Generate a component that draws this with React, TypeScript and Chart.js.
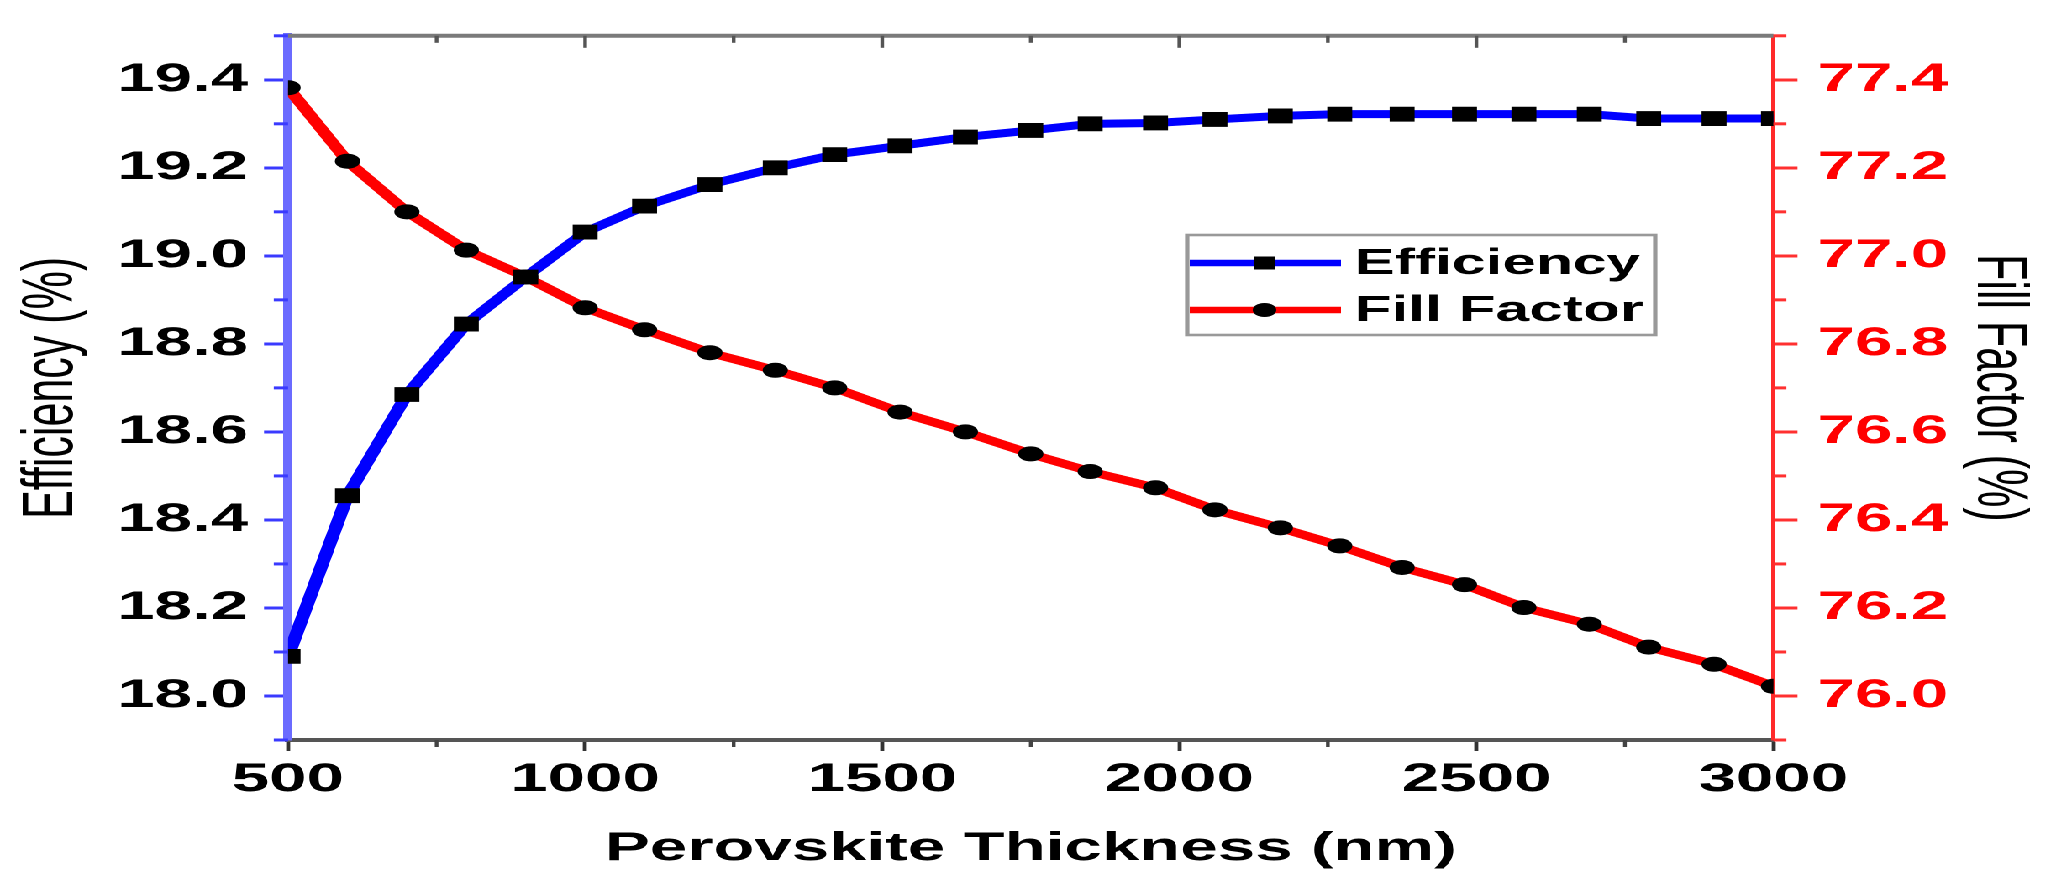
import React, { useEffect, useRef } from 'react';
import { Chart, registerables } from 'chart.js';

Chart.register(...registerables);

// ---- data ----
const thickness = [500, 600, 700, 800, 900, 1000, 1100, 1210, 1320, 1420, 1530, 1640, 1750, 1850, 1960, 2060, 2170, 2270, 2375, 2480, 2580, 2690, 2790, 2900, 3000];
const efficiency = [18.09, 18.455, 18.685, 18.845, 18.952, 19.054, 19.113, 19.162, 19.2, 19.23, 19.25, 19.27, 19.285, 19.3, 19.302, 19.31, 19.318, 19.322, 19.322, 19.322, 19.322, 19.322, 19.312, 19.312, 19.312];
const fillFactor = [77.382, 77.215, 77.1, 77.013, 76.952, 76.882, 76.832, 76.78, 76.74, 76.7, 76.645, 76.6, 76.55, 76.51, 76.473, 76.423, 76.382, 76.341, 76.292, 76.253, 76.201, 76.163, 76.111, 76.072, 76.022];

// ---- tick values ----
const xMajorTicks = [500, 1000, 1500, 2000, 2500, 3000];
const xMinorTicks = [750, 1250, 1750, 2250, 2750];
const xTopTicks = [750, 1000, 1250, 1500, 1750, 2000, 2250, 2500, 2750];
const effMajorTicks = [18.0, 18.2, 18.4, 18.6, 18.8, 19.0, 19.2, 19.4];
const effMinorTicks = [17.9, 18.1, 18.3, 18.5, 18.7, 18.9, 19.1, 19.3, 19.5];
const ffMajorTicks = [76.0, 76.2, 76.4, 76.6, 76.8, 77.0, 77.2, 77.4];
const ffMinorTicks = [75.9, 76.1, 76.3, 76.5, 76.7, 76.9, 77.1, 77.3, 77.5];

const seriesLabels = ['Efficiency', 'Fill Factor'];
const seriesColors = ['#0000ff', '#ff0000'];

// ---- layout (logical canvas, stretched horizontally like the reference) ----
const STRETCH = 1.68;
const FULL_W = 2072;
const H = 879;
const W = Math.round(FULL_W / STRETCH);
const FONT = "'Liberation Sans', Arial, Helvetica, sans-serif";

const framePlugin = {
  id: 'frameTicks',
  afterDraw(chart: any) {
    const ctx = chart.ctx;
    const { left, right, top, bottom } = chart.chartArea;
    const xs = chart.scales.x;
    const ys = chart.scales.y;
    const y1 = chart.scales.y1;
    ctx.save();
    // top frame line
    ctx.strokeStyle = '#7a7a7a';
    ctx.lineWidth = 4;
    ctx.beginPath();
    ctx.moveTo(left, top);
    ctx.lineTo(right, top);
    ctx.stroke();
    // top inward ticks
    ctx.strokeStyle = '#555';
    ctx.lineWidth = 2.2;
    xTopTicks.forEach((v) => {
      const px = xs.getPixelForValue(v);
      const len = xMajorTicks.includes(v) ? 12 : 7;
      ctx.beginPath();
      ctx.moveTo(px, top);
      ctx.lineTo(px, top + len);
      ctx.stroke();
    });
    // bottom minor ticks (outward)
    ctx.strokeStyle = '#444';
    xMinorTicks.forEach((v) => {
      const px = xs.getPixelForValue(v);
      ctx.beginPath();
      ctx.moveTo(px, bottom);
      ctx.lineTo(px, bottom + 7);
      ctx.stroke();
    });
    // left minor ticks
    ctx.strokeStyle = '#3a3aff';
    ctx.lineWidth = 3;
    effMinorTicks.forEach((v) => {
      const py = ys.getPixelForValue(v);
      ctx.beginPath();
      ctx.moveTo(left, py);
      ctx.lineTo(left - 8.5, py);
      ctx.stroke();
    });
    // right minor ticks
    ctx.strokeStyle = '#ff3030';
    ffMinorTicks.forEach((v) => {
      const py = y1.getPixelForValue(v);
      ctx.beginPath();
      ctx.moveTo(right, py);
      ctx.lineTo(right + 7.7, py);
      ctx.stroke();
    });
    ctx.restore();
  },
};

const legendPlugin = {
  id: 'boxLegend',
  afterDraw(chart: any) {
    const ctx = chart.ctx;
    const bx1 = 706.5, bx2 = 985, by1 = 235, by2 = 335;
    ctx.save();
    ctx.fillStyle = '#ffffff';
    ctx.fillRect(bx1, by1, bx2 - bx1, by2 - by1);
    ctx.strokeStyle = '#999999';
    ctx.lineWidth = 2.6;
    ctx.strokeRect(bx1, by1, bx2 - bx1, by2 - by1);
    const rows = [263, 310];
    chart.data.datasets.forEach((ds: any, i: number) => {
      const y = rows[i];
      ctx.strokeStyle = ds.borderColor;
      ctx.lineWidth = 6.5;
      ctx.beginPath();
      ctx.moveTo(708, y);
      ctx.lineTo(798, y);
      ctx.stroke();
      ctx.fillStyle = '#000';
      if (ds.pointStyle === 'rect') {
        ctx.fillRect(746, y - 6.5, 13, 13);
      } else {
        ctx.beginPath();
        ctx.arc(752.5, y, 7, 0, Math.PI * 2);
        ctx.fill();
      }
      ctx.fillStyle = '#000';
      ctx.font = `bold 36px ${FONT}`;
      ctx.textBaseline = 'middle';
      ctx.textAlign = 'left';
      ctx.fillText(ds.label, 806, y + 1);
    });
    ctx.restore();
  },
};

const setTicks = (values: number[]) => (scale: any) => {
  scale.ticks = values.map((v) => ({ value: v }));
};

export default function App() {
  const canvasRef = useRef<HTMLCanvasElement | null>(null);

  useEffect(() => {
    const canvas = canvasRef.current;
    if (!canvas) return;
    document.body.style.margin = '0';
    const chart = new Chart(canvas, {
      type: 'line',
      data: {
        datasets: [
          {
            label: seriesLabels[0],
            data: thickness.map((t, i) => ({ x: t, y: efficiency[i] })),
            borderColor: seriesColors[0],
            backgroundColor: '#000',
            borderWidth: 8,
            pointStyle: 'rect',
            pointRadius: 10.5,
            pointBackgroundColor: '#000',
            pointBorderColor: '#000',
            pointBorderWidth: 0,
            tension: 0,
            yAxisID: 'y',
            clip: 0,
          },
          {
            label: seriesLabels[1],
            data: thickness.map((t, i) => ({ x: t, y: fillFactor[i] })),
            borderColor: seriesColors[1],
            backgroundColor: '#000',
            borderWidth: 8,
            pointStyle: 'circle',
            pointRadius: 7.5,
            pointBackgroundColor: '#000',
            pointBorderColor: '#000',
            pointBorderWidth: 0,
            tension: 0,
            yAxisID: 'y1',
            clip: 0,
          },
        ],
      },
      options: {
        animation: false,
        responsive: false,
        devicePixelRatio: 2,
        layout: { padding: { top: 33, left: 0, right: 0, bottom: 0 } },
        plugins: {
          legend: { display: false },
          tooltip: { enabled: false },
        },
        scales: {
          x: {
            type: 'linear',
            position: 'bottom',
            min: 500,
            max: 3000,
            afterBuildTicks: setTicks(xMajorTicks),
            ticks: {
              color: '#000',
              padding: 5,
              font: { family: FONT, size: 40, weight: 'bold' },
              callback: (v: any) => String(v),
            },
            grid: {
              display: true,
              drawOnChartArea: false,
              drawTicks: true,
              tickLength: 11,
              tickWidth: 2.4,
              tickColor: '#333',
            },
            border: { display: true, color: '#555', width: 4 },
            title: {
              display: true,
              text: 'Perovskite Thickness (nm)',
              color: '#000',
              font: { family: FONT, size: 40, weight: 'bold' },
              padding: { top: 0, bottom: 6 },
            },
            afterFit: (s: any) => { s.height = 139; },
          },
          y: {
            type: 'linear',
            position: 'left',
            min: 17.9,
            max: 19.5,
            afterBuildTicks: setTicks(effMajorTicks),
            ticks: {
              color: '#000',
              padding: 9.5,
              font: { family: FONT, size: 40, weight: 'bold' },
              callback: (v: any) => Number(v).toFixed(1),
            },
            grid: {
              display: true,
              drawOnChartArea: false,
              drawTicks: true,
              tickLength: 14.3,
              tickWidth: 3,
              tickColor: '#3a3aff',
            },
            border: { display: true, color: '#6b6bff', width: 5.4 },
            title: {
              display: true,
              text: 'Efficiency (%)',
              color: '#000',
              font: { family: FONT, size: 43, weight: 'normal' },
              padding: { top: 5.2, bottom: 0 },
            },
            afterFit: (s: any) => { s.width = 288 / STRETCH; },
          },
          y1: {
            type: 'linear',
            position: 'right',
            min: 75.9,
            max: 77.5,
            afterBuildTicks: setTicks(ffMajorTicks),
            ticks: {
              color: '#ff0000',
              padding: 11.8,
              font: { family: FONT, size: 40, weight: 'bold' },
              callback: (v: any) => Number(v).toFixed(1),
            },
            grid: {
              display: true,
              drawOnChartArea: false,
              drawTicks: true,
              tickLength: 14.3,
              tickWidth: 3,
              tickColor: '#ff3030',
            },
            border: { display: true, color: '#ff2a2a', width: 2.5 },
            title: {
              display: true,
              text: 'Fill Factor (%)',
              color: '#000',
              font: { family: FONT, size: 43, weight: 'normal' },
              padding: { top: 18.5, bottom: 0 },
            },
            afterFit: (s: any) => { s.width = W - 1773 / STRETCH; },
          },
        },
      },
      plugins: [framePlugin, legendPlugin],
    });
    return () => chart.destroy();
  }, []);

  return (
    <div
      style={{
        position: 'fixed',
        left: 0,
        top: 0,
        width: W,
        height: H,
        transform: `scaleX(${FULL_W / W})`,
        transformOrigin: '0 0',
        background: '#fff',
      }}
    >
      <canvas ref={canvasRef} width={W} height={H} style={{ width: W, height: H, display: 'block' }} />
    </div>
  );
}
